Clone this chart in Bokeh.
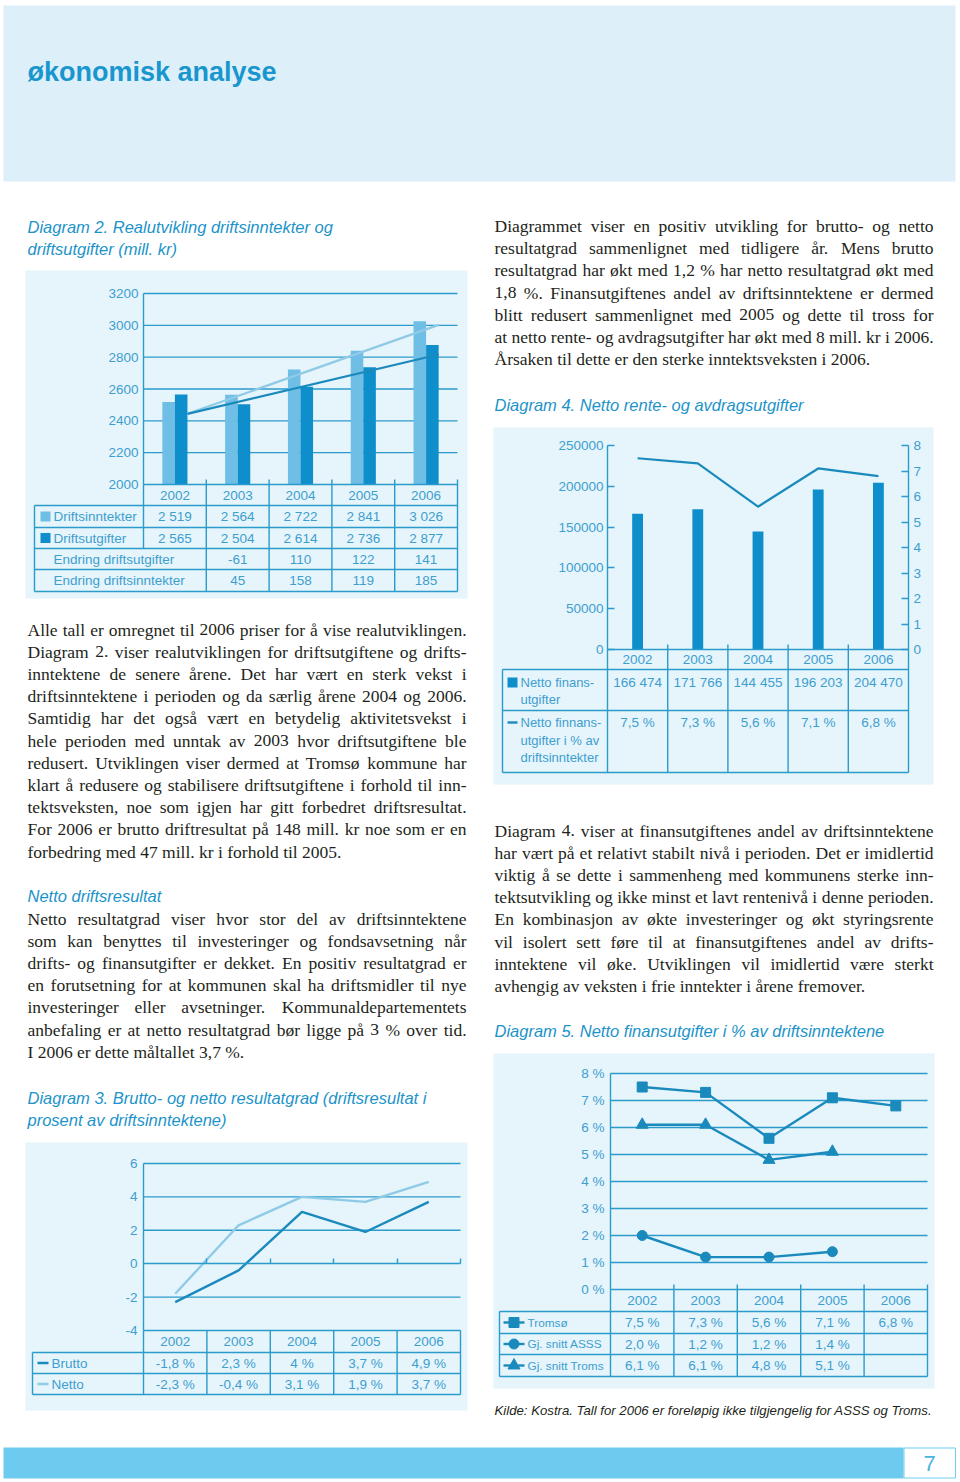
import numpy as np
from bokeh.plotting import figure
from bokeh.models import Range1d, LinearAxis, FixedTicker
from bokeh.core.properties import value
from bokeh.embed import file_html
from bokeh.resources import INLINE

# ---------------- data ----------------
years = ["2002", "2003", "2004", "2005", "2006"]

# Diagram 2 (mill. kr)
d2_driftsinntekter = [2519, 2564, 2722, 2841, 3026]
d2_driftsutgifter = [2565, 2504, 2614, 2736, 2877]
d2_endring_utgifter = [None, -61, 110, 122, 141]
d2_endring_inntekter = [None, 45, 158, 119, 185]
d2_trend_x = [0.2, 4.2]
d2_trend_inntekter = [2444, 3003]
d2_trend_utgifter = [2444, 2817]
d2_ticks = [2000, 2200, 2400, 2600, 2800, 3000, 3200]

# Diagram 3 (%)
d3_brutto = [-1.8, 2.3, 4.0, 3.7, 4.9]
d3_netto = [-2.3, -0.4, 3.1, 1.9, 3.7]
d3_ticks = [-4, -2, 0, 2, 4, 6]

# Diagram 4
d4_finansutgifter = [166474, 171766, 144455, 196203, 204470]
d4_andel = [7.5, 7.3, 5.6, 7.1, 6.8]
d4_ticks_left = [0, 50000, 100000, 150000, 200000, 250000]
d4_ticks_right = [0, 1, 2, 3, 4, 5, 6, 7, 8]

# Diagram 5 (%)
d5_tromso = [7.5, 7.3, 5.6, 7.1, 6.8]
d5_asss = [2.0, 1.2, 1.2, 1.4]
d5_troms = [6.1, 6.1, 4.8, 5.1]
d5_ticks = [0, 1, 2, 3, 4, 5, 6, 7, 8]

# ---------------- text ----------------
para_left_0 = ["Alle tall er omregnet til 2006 priser for å vise realutviklingen."]
para_left_1 = [
    "Diagram 2. viser realutviklingen for driftsutgiftene og drifts-",
    "inntektene de senere årene. Det har vært en sterk vekst i",
    "driftsinntektene i perioden og da særlig årene 2004 og 2006.",
    "Samtidig har det også vært en betydelig aktivitetsvekst i",
    "hele perioden med unntak av 2003 hvor driftsutgiftene ble",
    "redusert. Utviklingen viser dermed at Tromsø kommune har",
    "klart å redusere og stabilisere driftsutgiftene i forhold til inn-",
    "tektsveksten, noe som igjen har gitt forbedret driftsresultat.",
    "For 2006 er brutto driftresultat på 148 mill. kr noe som er en",
    "forbedring med 47 mill. kr i forhold til 2005.",
]
para_left_2 = [
    "Netto resultatgrad viser hvor stor del av driftsinntektene",
    "som kan benyttes til investeringer og fondsavsetning når",
    "drifts- og finansutgifter er dekket. En positiv resultatgrad er",
    "en forutsetning for at kommunen skal ha driftsmidler til nye",
    "investeringer eller avsetninger. Kommunaldepartementets",
    "anbefaling er at netto resultatgrad bør ligge på 3 % over tid.",
    "I 2006 er dette måltallet 3,7 %.",
]
para_right_1 = [
    "Diagrammet viser en positiv utvikling for brutto- og netto",
    "resultatgrad sammenlignet med tidligere år. Mens brutto",
    "resultatgrad har økt med 1,2 % har netto resultatgrad økt med",
    "1,8 %. Finansutgiftenes andel av driftsinntektene er dermed",
    "blitt redusert sammenlignet med 2005 og dette til tross for",
    "at netto rente- og avdragsutgifter har økt med 8 mill. kr i 2006.",
    "Årsaken til dette er den sterke inntektsveksten i 2006.",
]
para_right_2 = [
    "Diagram 4. viser at finansutgiftenes andel av driftsinntektene",
    "har vært på et relativt stabilt nivå i perioden. Det er imidlertid",
    "viktig å se dette i sammenheng med kommunens sterke inn-",
    "tektsutvikling og ikke minst et lavt rentenivå i denne perioden.",
    "En kombinasjon av økte investeringer og økt styringsrente",
    "vil isolert sett føre til at finansutgiftenes andel av drifts-",
    "inntektene vil øke. Utviklingen vil imidlertid være sterkt",
    "avhengig av veksten i frie inntekter i årene fremover.",
]

# ---------------- style ----------------
SANS = "Liberation Sans"
SERIF = "Liberation Serif"
INK = "#231f20"
TITLE_C = "#1c93c9"
TXT = "#3d9fcf"
LINE = "#2a9bcb"
BOX = "#e6f4fb"
HEAD_BG = "#ddf0fa"
BAR_LIGHT = "#6fbee6"
BAR_DARK = "#0e8ecb"
LN_LIGHT = "#8fcae7"
LN_DARK = "#1a8abd"
FOOT = "#6ccbee"
CH = "13.5px"      # chart text size
TS = "16.5px"      # diagram title size
BODY = 17.5        # body text size (px)

W, H = 960, 1482
PX0, PX1 = 0, W
PY0, PY1 = H, 0

p = figure(width=W, height=H, x_range=Range1d(PX0, PX1), y_range=Range1d(PY0, PY1),
           output_backend="svg", toolbar_location=None, x_axis_type=None, y_axis_type=None,
           min_border=0, background_fill_color="white", border_fill_color="white")
p.outline_line_color = None


def fit(d0, q0, d1, q1, a, b):
    k = (d1 - d0) / (q1 - q0)
    return Range1d(start=d0 + (a - q0) * k, end=d0 + (b - q0) * k)


def colx(px, a, b):
    return -0.5 + 5.0 * (px - a) / (b - a)


def T(x, y, s, size=CH, color=TXT, font=SANS, style="normal", align="left",
      baseline="middle", xr="default", yr="default"):
    s = list(s) if isinstance(s, (list, tuple)) else [s]
    n = len(s)
    x = list(x) if isinstance(x, (list, tuple)) else [x] * n
    y = list(y) if isinstance(y, (list, tuple)) else [y] * n
    p.text(x=x, y=y, text=s, text_font=value(font), text_font_size=size,
           text_font_style=style, text_color=color, text_align=align,
           text_baseline=baseline, x_range_name=xr, y_range_name=yr)


def S(x0, y0, x1, y1, xr="default", yr="default", color=LINE, w=1.4):
    p.segment(x0=x0, y0=y0, x1=x1, y1=y1, line_color=color, line_width=w,
              x_range_name=xr, y_range_name=yr)


def box(l, r, t, b, color, line=None):
    p.quad(left=[l], right=[r], top=[t], bottom=[b], fill_color=color, line_color=line)


def axis(xr, yr, loc, ticks, bounds, labels, side="left", tick_in=0, standoff=5):
    ax = LinearAxis(x_range_name=xr, y_range_name=yr, fixed_location=loc, bounds=bounds,
                    ticker=FixedTicker(ticks=ticks),
                    major_label_overrides={t: l for t, l in zip(ticks, labels)},
                    major_tick_in=tick_in, major_tick_out=0, minor_tick_in=0, minor_tick_out=0,
                    axis_line_color=LINE, axis_line_width=1.4, major_tick_line_color=LINE,
                    major_tick_line_width=1.4,
                    major_label_text_font=SANS, major_label_text_font_size=CH,
                    major_label_text_color=TXT, major_label_standoff=standoff)
    p.add_layout(ax, side)


def num(v):
    return f"{v:,}".replace(",", " ")


def pct1(v):
    return f"{v:.1f} %".replace(".", ",")


def pctg(v):
    return ("%g" % v).replace(".", ",") + " %"


# Times-compatible advance widths (em) for justification of body text
_TW = dict(zip("abcdefghijklmnopqrstuvwxyz",
               [.444, .5, .444, .5, .444, .333, .5, .5, .278, .278, .5, .278, .778, .5, .5,
                .5, .5, .333, .389, .278, .5, .5, .722, .5, .5, .444]))
_TW.update(dict(zip("ABCDEFGHIJKLMNOPQRSTUVWXYZ",
                    [.722, .667, .667, .722, .611, .556, .722, .722, .333, .389, .722, .611, .889,
                     .722, .722, .556, .722, .667, .556, .611, .722, .722, .944, .722, .722, .611])))
_TW.update({c: .5 for c in "0123456789"})
_TW.update({" ": .25, ".": .25, ",": .25, "-": .333, "%": .833, "(": .333, ")": .333,
            "å": .444, "ø": .5, "æ": .667, "Å": .722, "Ø": .722})


def tw(s, size):
    return sum(_TW.get(c, .5) for c in s) * size


def para(lines, x0, x1, y0, dy=22.2, last_ragged=True):
    lx, ly, lt, rx, ry, rt = [], [], [], [], [], []
    for i, line in enumerate(lines):
        y = y0 + i * dy
        if last_ragged and i == len(lines) - 1:
            lx.append(x0); ly.append(y); lt.append(line)
            continue
        words = line.split(" ")
        ws = [tw(w, BODY) for w in words]
        gap = (x1 - x0 - sum(ws)) / (len(words) - 1)
        x = x0
        for j, (w, wd) in enumerate(zip(words, ws)):
            if j == len(words) - 1:
                rx.append(x1); ry.append(y); rt.append(w)
            else:
                lx.append(x); ly.append(y); lt.append(w)
            x += wd + gap
    T(lx, ly, lt, size=f"{BODY}px", color=INK, font=SERIF, baseline="alphabetic")
    if rt:
        T(rx, ry, rt, size=f"{BODY}px", color=INK, font=SERIF, baseline="alphabetic",
          align="right")


xi = list(range(len(years)))
bounds_x = [i + 0.5 for i in range(-1, len(years))]   # column edges -0.5 .. 4.5

# ---------------- header / footer ----------------
box(3, 955, 5, 181, HEAD_BG)
T(27, 71, "økonomisk analyse", size="27px", color="#1a96cf", style="bold", baseline="alphabetic")
box(3, 903, 1447, 1478, FOOT)
box(903.5, 955, 1447.5, 1477.5, "white", line=FOOT)
T(929, 1463, "7", size="22px", color="#4db3e0", align="center")

# ---------------- body text ----------------
T(27, [226.5, 248.5], ["Diagram 2. Realutvikling driftsinntekter og", "driftsutgifter (mill. kr)"],
  size=TS, color=TITLE_C, style="italic", baseline="alphabetic")
para(para_left_0, 27, 466, 629, last_ragged=False)
para(para_left_1, 27, 466, 629 + 22.2)
T(27, 895, "Netto driftsresultat", size=TS, color=TITLE_C, style="italic", baseline="alphabetic")
para(para_left_2, 27, 466, 918)
T(27, [1097, 1119], ["Diagram 3. Brutto- og netto resultatgrad (driftsresultat i",
                     "prosent av driftsinntektene)"],
  size=TS, color=TITLE_C, style="italic", baseline="alphabetic")
para(para_right_1, 494, 933, 225.5)
T(494, 404, "Diagram 4. Netto rente- og avdragsutgifter", size=TS, color=TITLE_C,
  style="italic", baseline="alphabetic")
para(para_right_2, 494, 933, 830)
T(494, 1030, "Diagram 5. Netto finansutgifter i % av driftsinntektene", size=TS,
  color=TITLE_C, style="italic", baseline="alphabetic")
T(494, 1410, "Kilde: Kostra. Tall for 2006 er foreløpig ikke tilgjengelig for ASSS og Troms.",
  size="13.2px", color=INK, style="italic", baseline="alphabetic")

# ---------------- Diagram 2 ----------------
A, B = 143, 457
p.extra_x_ranges["d2x"] = fit(-0.5, A, 4.5, B, PX0, PX1)
p.extra_y_ranges["d2y"] = fit(2000, 484, 3200, 293, PY0, PY1)
box(25, 467, 270, 598, BOX)
gl = d2_ticks[1:]
S([-0.5] * len(gl), gl, [4.5] * len(gl), gl, "d2x", "d2y")
p.vbar(x=[i - 0.1 for i in xi], top=d2_driftsinntekter, bottom=2000, width=0.2,
       fill_color=BAR_LIGHT, line_color=None, x_range_name="d2x", y_range_name="d2y")
p.vbar(x=[i + 0.1 for i in xi], top=d2_driftsutgifter, bottom=2000, width=0.2,
       fill_color=BAR_DARK, line_color=None, x_range_name="d2x", y_range_name="d2y")
p.line(d2_trend_x, d2_trend_inntekter, line_color=LN_LIGHT, line_width=2.2,
       x_range_name="d2x", y_range_name="d2y")
p.line(d2_trend_x, d2_trend_utgifter, line_color=LN_DARK, line_width=2.2,
       x_range_name="d2x", y_range_name="d2y")
axis("d2x", "d2y", -0.5, d2_ticks, (2000, 3200), [str(t) for t in d2_ticks], standoff=5)

r2 = [484, 505, 527, 548, 569, 591]
TL = colx(34, A, B)
S([-0.5] + [TL] * 5, r2, [4.5] * 6, r2, "d2x")
S([TL, -0.5] + bounds_x[1:], [505, 484] + [479] * 5, [TL, -0.5] + bounds_x[1:],
  [591, 548] + [591] * 5, "d2x")
T(xi, 495, years, align="center", xr="d2x")
T(xi, 516, [num(v) for v in d2_driftsinntekter], align="center", xr="d2x")
T(xi, 537.5, [num(v) for v in d2_driftsutgifter], align="center", xr="d2x")
T([i for i, v in zip(xi, d2_endring_utgifter) if v is not None], 558.5,
  [str(v) for v in d2_endring_utgifter if v is not None], align="center", xr="d2x")
T([i for i, v in zip(xi, d2_endring_inntekter) if v is not None], 580,
  [str(v) for v in d2_endring_inntekter if v is not None], align="center", xr="d2x")
box(40, 50, 511, 521, BAR_LIGHT)
box(40, 50, 532.5, 542.5, BAR_DARK)
T(53, [516, 537.5, 558.5, 580],
  ["Driftsinntekter", "Driftsutgifter", "Endring driftsutgifter", "Endring driftsinntekter"])

# ---------------- Diagram 3 ----------------
A, B = 143, 460
p.extra_x_ranges["d3x"] = fit(-0.5, A, 4.5, B, PX0, PX1)
p.extra_y_ranges["d3y"] = fit(-4, 1330, 6, 1163, PY0, PY1)
box(25, 467, 1142, 1410, BOX)
gl = [t for t in d3_ticks if t not in (0, d3_ticks[0])]
S([-0.5] * len(gl), gl, [4.5] * len(gl), gl, "d3x", "d3y")
axis("d3x", "d3y", -0.5, d3_ticks, (-4, 6), [str(t) for t in d3_ticks], standoff=6)
xa = LinearAxis(x_range_name="d3x", y_range_name="d3y", fixed_location=0, bounds=(-0.5, 4.5),
                ticker=FixedTicker(ticks=bounds_x[1:]),
                major_label_overrides={t: "" for t in bounds_x[1:]},
                major_tick_in=5, major_tick_out=0, minor_tick_in=0, minor_tick_out=0,
                axis_line_color=LINE, axis_line_width=1.4, major_tick_line_color=LINE,
                major_tick_line_width=1.4, major_label_text_font_size="1px")
p.add_layout(xa, "below")
# light line carries the first table row, dark line the second (as in the original)
p.line(xi, d3_brutto, line_color=LN_LIGHT, line_width=2.4, x_range_name="d3x", y_range_name="d3y")
p.line(xi, d3_netto, line_color=LN_DARK, line_width=2.4, x_range_name="d3x", y_range_name="d3y")

r3 = [1330, 1352, 1373, 1394]
TL = colx(32, A, B)
S([-0.5] + [TL] * 3, r3, [4.5] * 4, r3, "d3x")
S([TL] + bounds_x, [1352] + [1330] * 6, [TL] + bounds_x, [1394] * 7, "d3x")
T(xi, 1341, years, align="center", xr="d3x")
T(xi, 1362.5, [pctg(v) for v in d3_brutto], align="center", xr="d3x")
T(xi, 1383.5, [pctg(v) for v in d3_netto], align="center", xr="d3x")
S([37], [1362.5], [48], [1362.5], color=LN_DARK, w=2.4)
S([37], [1383.5], [48], [1383.5], color=LN_LIGHT, w=2.4)
T(51, [1362.5, 1383.5], ["Brutto", "Netto"])

# ---------------- Diagram 4 ----------------
A, B = 607, 908
p.extra_x_ranges["d4x"] = fit(-0.5, A, 4.5, B, PX0, PX1)
p.extra_y_ranges["d4y"] = fit(0, 649, 250000, 445, PY0, PY1)
p.extra_y_ranges["d4y2"] = fit(0, 649, 8, 445, PY0, PY1)
box(493, 933, 427, 784, BOX)
p.vbar(x=xi, top=d4_finansutgifter, bottom=0, width=0.18, fill_color=BAR_DARK,
       line_color=None, x_range_name="d4x", y_range_name="d4y")
p.line(xi, d4_andel, line_color=LN_DARK, line_width=2.2, x_range_name="d4x", y_range_name="d4y2")
axis("d4x", "d4y", -0.5, d4_ticks_left, (0, 250000), [str(t) for t in d4_ticks_left],
     tick_in=7, standoff=4)
axis("d4x", "d4y2", 4.5, d4_ticks_right, (0, 8), [str(t) for t in d4_ticks_right],
     side="right", tick_in=7, standoff=5)

r4 = [649, 669, 710, 772]
TL = colx(502, A, B)
S([-0.5] + [TL] * 3, r4, [4.5] * 4, r4, "d4x")
S([TL, -0.5] + bounds_x[1:5] + [4.5], [669, 649] + [644] * 4 + [649],
  [TL, -0.5] + bounds_x[1:5] + [4.5], [772] * 7, "d4x")
T(xi, 659, years, align="center", xr="d4x")
T(xi, 682, [num(v) for v in d4_finansutgifter], align="center", xr="d4x")
T(xi, 722, [pct1(v) for v in d4_andel], align="center", xr="d4x")
box(507, 517, 677, 687, BAR_DARK)
S([507], [722], [517], [722], color=LN_DARK, w=2.4)
T(520, [682, 698.5], ["Netto finans-", "utgifter"], size="13px")
T(520, [722, 739.5, 757], ["Netto finnans-", "utgifter i % av", "driftsinntekter"], size="13px")

# ---------------- Diagram 5 ----------------
A, B = 610, 927
p.extra_x_ranges["d5x"] = fit(-0.5, A, 4.5, B, PX0, PX1)
p.extra_y_ranges["d5y"] = fit(0, 1289, 8, 1073, PY0, PY1)
box(493, 934, 1053, 1388, BOX)
gl = d5_ticks[1:]
S([-0.5] * len(gl), gl, [4.5] * len(gl), gl, "d5x", "d5y")
axis("d5x", "d5y", -0.5, d5_ticks, (0, 8), [f"{t} %" for t in d5_ticks], standoff=6)
for vals, mk, sz in [(d5_tromso, "square", 10), (d5_asss, "circle", 10), (d5_troms, "triangle", 12)]:
    xs = xi[:len(vals)]
    p.line(xs, vals, line_color=LN_DARK, line_width=2.4, x_range_name="d5x", y_range_name="d5y")
    p.scatter(xs, vals, marker=mk, size=sz, fill_color=LN_DARK, line_color=LN_DARK,
              x_range_name="d5x", y_range_name="d5y")

r5 = [1289, 1311, 1333, 1354, 1376]
TL = colx(499, A, B)
S([-0.5] + [TL] * 4, r5, [4.5] * 5, r5, "d5x")
S([TL, -0.5] + bounds_x[1:], [1311, 1289] + [1284] * 5, [TL, -0.5] + bounds_x[1:],
  [1376] * 7, "d5x")
T(xi, 1300, years, align="center", xr="d5x")
T(xi, 1322, [pct1(v) for v in d5_tromso], align="center", xr="d5x")
T(xi[:len(d5_asss)], 1343.5, [pct1(v) for v in d5_asss], align="center", xr="d5x")
T(xi[:len(d5_troms)], 1365, [pct1(v) for v in d5_troms], align="center", xr="d5x")
leg_y = [1322, 1343.5, 1365]
S([503] * 3, leg_y, [524] * 3, leg_y, color=LN_DARK, w=2.4)
p.scatter([513.5], [1322], marker="square", size=10, fill_color=LN_DARK, line_color=LN_DARK)
p.scatter([513.5], [1343.5], marker="circle", size=10, fill_color=LN_DARK, line_color=LN_DARK)
p.scatter([513.5], [1365], marker="triangle", size=12, fill_color=LN_DARK, line_color=LN_DARK)
T(527, leg_y, ["Tromsø", "Gj. snitt ASSS", "Gj. snitt Troms"], size="11.8px")

open("out.html", "w").write(file_html(p, INLINE))
